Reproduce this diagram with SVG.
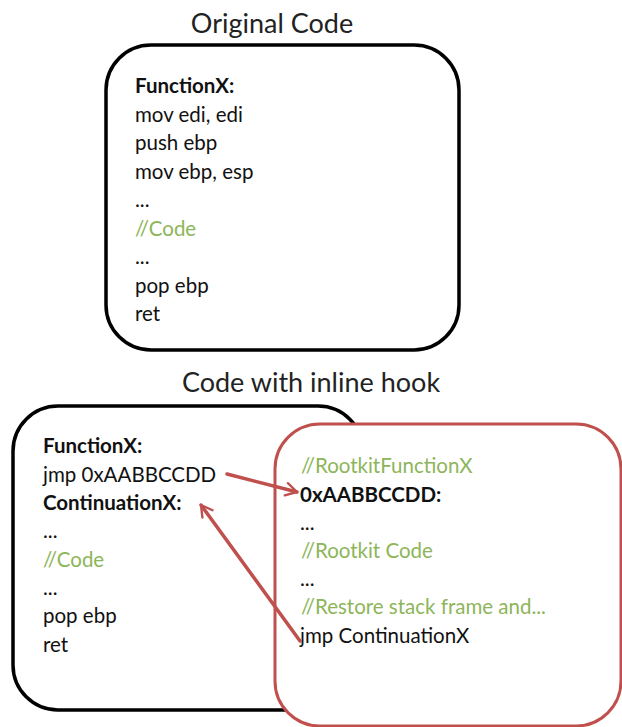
<svg xmlns="http://www.w3.org/2000/svg" width="622" height="727" viewBox="0 0 622 727">
<defs>
<style>
.t{font-family:Lato,"Open Sans","Liberation Sans",sans-serif;font-size:20.5px;fill:#111}
.b{font-weight:bold}
.g{fill:#8db559}
.title{font-family:Lato,"Open Sans","Liberation Sans",sans-serif;font-size:27px;fill:#222}
.box{fill:#fff;stroke:#000;stroke-width:3.5}
.rbox{fill:#fff;stroke:#c0504d;stroke-width:3}
.arr{fill:none;stroke:#c0504d;stroke-width:3.5;stroke-linecap:round;stroke-linejoin:round}
</style>
<marker id="ah" viewBox="0 0 10 10" refX="8" refY="5" markerWidth="4.5" markerHeight="4.5" orient="auto" markerUnits="strokeWidth">
<path d="M1,1 L8,5 L1,9" fill="none" stroke="#c0504d" stroke-width="1.5" stroke-linecap="round" stroke-linejoin="round"/>
</marker>
</defs>
<rect width="622" height="727" fill="#fff"/>
<text class="title" x="272" y="33" text-anchor="middle">Original Code</text>
<text class="title" x="311" y="392" text-anchor="middle">Code with inline hook</text>
<g id="original">
<rect class="box" x="106" y="45" width="353" height="305" rx="45"/>
<text class="t b" x="135" y="93">FunctionX:</text>
<text class="t" x="135" y="121.5">mov edi, edi</text>
<text class="t" x="135" y="150">push ebp</text>
<text class="t" x="135" y="178.5">mov ebp, esp</text>
<text class="t" x="135" y="207">...</text>
<text class="t g" x="135" y="235.5">//Code</text>
<text class="t" x="135" y="264">...</text>
<text class="t" x="135" y="292.5">pop ebp</text>
<text class="t" x="135" y="321">ret</text>
</g>
<g id="hooked">
<rect class="box" x="13" y="406" width="350" height="304" rx="45"/>
<text class="t b" x="43" y="453">FunctionX:</text>
<text class="t" x="43" y="481.5">jmp 0xAABBCCDD</text>
<text class="t b" x="43" y="510">ContinuationX:</text>
<text class="t" x="43" y="538">...</text>
<text class="t g" x="43" y="566.5">//Code</text>
<text class="t" x="43" y="595">...</text>
<text class="t" x="43" y="623">pop ebp</text>
<text class="t" x="43" y="651.5">ret</text>
</g>
<g id="rootkit">
<rect class="rbox" x="275" y="424" width="346" height="302" rx="45"/>
<text class="t g" x="301" y="473">//RootkitFunctionX</text>
<text class="t b" x="300" y="501.5">0xAABBCCDD:</text>
<text class="t" x="300" y="530">...</text>
<text class="t g" x="301" y="557.5">//Rootkit Code</text>
<text class="t" x="300" y="586">...</text>
<text class="t g" x="301" y="614">//Restore stack frame and...</text>
<text class="t" x="300" y="642.5">jmp ContinuationX</text>
</g>
<g id="connectors">
<path class="arr" d="M227,474 L297,492" marker-end="url(#ah)"/>
<path class="arr" d="M300,641 L201,505" marker-end="url(#ah)"/>
</g>
</svg>
